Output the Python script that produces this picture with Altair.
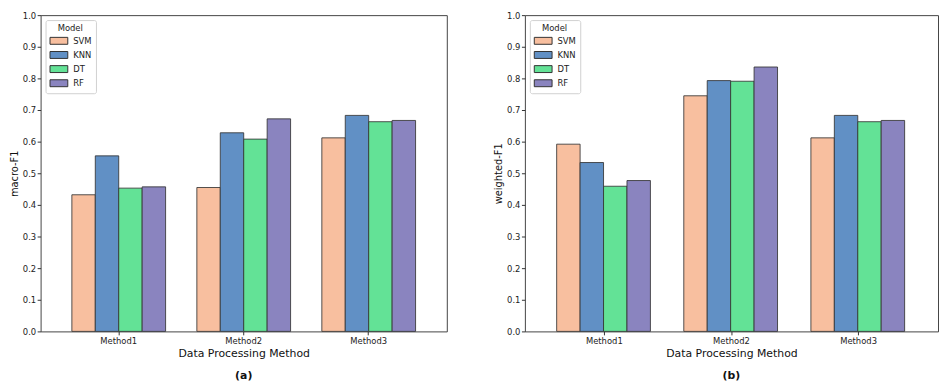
import altair as alt
import pandas as pd

methods = ["Method1", "Method2", "Method3"]
models = ["SVM", "KNN", "DT", "RF"]
colors = ["#F8BF9F", "#6190C5", "#63E296", "#8A84BF"]

# values per model, in method order
macro_f1 = {
    "SVM": [0.432, 0.455, 0.612],
    "KNN": [0.555, 0.628, 0.683],
    "DT": [0.453, 0.608, 0.663],
    "RF": [0.457, 0.672, 0.667],
}
weighted_f1 = {
    "SVM": [0.592, 0.745, 0.612],
    "KNN": [0.534, 0.793, 0.683],
    "DT": [0.459, 0.791, 0.663],
    "RF": [0.477, 0.836, 0.667],
}
y_ticks = [round(i * 0.1, 1) for i in range(11)]

FONT = "DejaVu Sans"


def make_df(vals):
    rows = []
    for m in models:
        for i, meth in enumerate(methods):
            rows.append({"Method": meth, "Model": m, "value": vals[m][i]})
    return pd.DataFrame(rows)


def panel(vals, ylabel, caption, width):
    df = make_df(vals)
    legend_symbol = "M-1.8,-0.7L1.8,-0.7L1.8,0.7L-1.8,0.7Z"
    return (
        alt.Chart(df)
        .mark_bar(stroke="#333333", strokeWidth=1, strokeOpacity=0.85)
        .encode(
            x=alt.X(
                "Method:N",
                sort=methods,
                scale=alt.Scale(paddingInner=0.25, paddingOuter=0.25),
                axis=alt.Axis(
                    title="Data Processing Method",
                    labelAngle=0,
                    labelFontSize=8.5,
                    labelPadding=1.5,
                    tickSize=3.5,
                    tickColor="#333",
                    titleFontSize=11,
                    titleFontWeight="normal",
                    titlePadding=3,
                    domain=False,
                ),
            ),
            xOffset=alt.XOffset(
                "Model:N", sort=models, scale=alt.Scale(paddingInner=0, paddingOuter=0)
            ),
            y=alt.Y(
                "value:Q",
                scale=alt.Scale(domain=[0, 1], nice=False),
                axis=alt.Axis(
                    title=ylabel,
                    values=y_ticks,
                    format=".1f",
                    labelFontSize=8.5,
                    labelPadding=1.5,
                    tickSize=3.5,
                    tickColor="#333",
                    titleFontSize=10,
                    titleFontWeight="normal",
                    titlePadding=3,
                    grid=False,
                    domain=False,
                ),
            ),
            color=alt.Color(
                "Model:N",
                sort=models,
                scale=alt.Scale(domain=models, range=colors),
                legend=alt.Legend(
                    title="Model",
                    orient="top-left",
                    offset=5,
                    padding=4,
                    titleFontSize=8.5,
                    titleFontWeight="normal",
                    titleOrient="top",
                    titleAnchor="middle",
                    titleAlign="center",
                    titlePadding=3,
                    labelFontSize=8.5,
                    symbolType=legend_symbol,
                    symbolSize=100,
                    symbolOffset=4,
                    symbolStrokeColor="#333",
                    symbolStrokeWidth=1,
                    symbolOpacity=1,
                    labelOffset=9,
                    rowPadding=3.3,
                    fillColor="rgba(255,255,255,0.85)",
                    strokeColor="#d0d0d0",
                    cornerRadius=2,
                ),
            ),
        )
        .properties(
            width=width,
            height=320,
            title=alt.TitleParams(
                caption,
                orient="bottom",
                fontSize=11,
                fontWeight="bold",
                anchor="middle",
                offset=12,
            ),
        )
    )


left = panel(macro_f1, "macro-F1", "(a)", 411)
right = panel(weighted_f1, "weighted-F1", "(b)", 418)

chart = (
    alt.hconcat(left, right, spacing=45)
    .resolve_scale(color="independent")
    .resolve_legend(color="independent")
    .properties(padding=0)
    .configure(font=FONT)
    .configure_view(stroke="#444444", strokeWidth=1)
    .configure_axis(labelColor="#222", titleColor="#111")
    .configure_title(color="#111")
    .configure_legend(labelColor="#222", titleColor="#222")
)

chart.save("out.html", embed_options={"renderer": "svg", "actions": False})
